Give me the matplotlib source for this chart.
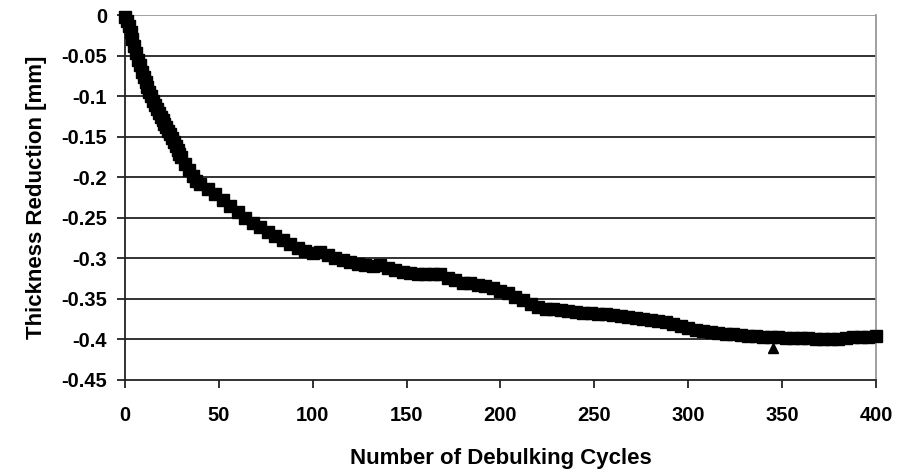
import matplotlib
matplotlib.use("Agg")
import matplotlib.pyplot as plt

# cycles and thickness reduction
cycles = [0, 1, 2, 3, 4, 5, 6, 7, 8, 9, 10, 11, 12, 13, 14, 15, 16, 17, 18, 19, 20,
          21, 22, 23, 24, 25, 26, 27, 28, 29, 30, 32, 34, 36, 38, 40,
          44, 48, 52, 56, 60, 64, 68, 72, 76, 80, 84, 88, 92, 96, 100,
          104, 108, 112, 116, 120, 124, 128, 132, 136, 140, 144, 148, 152, 156, 160,
          164, 168, 172, 176, 180, 184, 188, 192, 196, 200, 204, 208, 212, 216, 220,
          224, 228, 232, 236, 240, 244, 248, 252, 256, 260, 264, 268, 272, 276, 280,
          284, 288, 292, 296, 300, 304, 308, 312, 316, 320, 324, 328, 332, 336, 340,
          344, 348, 352, 356, 360, 364, 368, 372, 376, 380, 384, 388, 392, 396, 400]
reduction = [-0.003, -0.008, -0.014, -0.021, -0.029, -0.038, -0.047, -0.055, -0.062, -0.070,
             -0.077, -0.083, -0.089, -0.095, -0.100, -0.106, -0.111, -0.116, -0.121, -0.126,
             -0.130, -0.134, -0.138, -0.143, -0.147, -0.152, -0.156, -0.161, -0.166, -0.171,
             -0.175, -0.184, -0.191, -0.199, -0.205, -0.209,
             -0.214, -0.221, -0.228, -0.236, -0.243, -0.250, -0.256, -0.262, -0.268, -0.273,
             -0.278, -0.283, -0.287, -0.291, -0.294,
             -0.292, -0.296, -0.300, -0.302, -0.304, -0.307, -0.308, -0.309, -0.308, -0.312,
             -0.315, -0.317, -0.318, -0.319, -0.319,
             -0.319, -0.320, -0.324, -0.327, -0.330, -0.331, -0.333, -0.334, -0.337, -0.340,
             -0.343, -0.348, -0.352, -0.356, -0.360,
             -0.362, -0.363, -0.364, -0.365, -0.366, -0.367, -0.368, -0.369, -0.369, -0.370,
             -0.371, -0.373, -0.374, -0.375, -0.376,
             -0.377, -0.379, -0.381, -0.384, -0.386, -0.388, -0.390, -0.391, -0.392, -0.393,
             -0.394, -0.395, -0.396, -0.396, -0.397,
             -0.397, -0.397, -0.398, -0.398, -0.398, -0.398, -0.399, -0.399, -0.400, -0.399,
             -0.398, -0.397, -0.397, -0.397, -0.396]

# single odd reading drawn as a triangle
outlier_cycle = [345]
outlier_value = [-0.411]

x_ticks = [0, 50, 100, 150, 200, 250, 300, 350, 400]
y_ticks = [0, -0.05, -0.1, -0.15, -0.2, -0.25, -0.3, -0.35, -0.4, -0.45]
y_labels = ['0', '-0.05', '-0.1', '-0.15', '-0.2', '-0.25', '-0.3', '-0.35', '-0.4', '-0.45']

plt.rcParams['font.family'] = ['Liberation Sans', 'DejaVu Sans']
plt.rcParams['font.weight'] = 'bold'

fig = plt.figure(figsize=(8.99, 4.69), dpi=100)
ax = fig.add_axes([0.139, 0.190, 0.8354, 0.778])

# horizontal grid lines, Excel style
for yv in y_ticks[:-1]:
    ax.axhline(yv, color='#222222' if yv != 0 else '#999999', linewidth=1.3, zorder=1)

ax.plot(cycles, reduction, linestyle='none', marker='s', markersize=8.5,
        color='black', zorder=3, clip_on=False)
ax.plot(outlier_cycle, outlier_value, linestyle='none', marker='^', markersize=7.5,
        color='black', zorder=3)

ax.set_xlim(0, 400)
ax.set_ylim(-0.45, 0)
ax.set_xticks(x_ticks)
ax.set_xticklabels([str(t) for t in x_ticks])
ax.set_yticks(y_ticks)
ax.set_yticklabels(y_labels)

ax.spines['top'].set_visible(False)
ax.spines['right'].set_color('#999999')
ax.spines['right'].set_linewidth(1.3)
ax.spines['left'].set_color('#222222')
ax.spines['left'].set_linewidth(1.3)
ax.spines['bottom'].set_color('#222222')
ax.spines['bottom'].set_linewidth(1.3)

ax.tick_params(axis='both', direction='out', length=6, width=1.3, color='#222222',
               labelsize=14.5, pad=7)
ax.tick_params(axis='x', pad=13)

ax.set_xlabel('Number of Debulking Cycles', fontsize=16, fontweight='bold', labelpad=16)
ax.set_ylabel('Thickness Reduction [mm]', fontsize=16, fontweight='bold', labelpad=10)

fig.savefig('out.png', dpi=100)
